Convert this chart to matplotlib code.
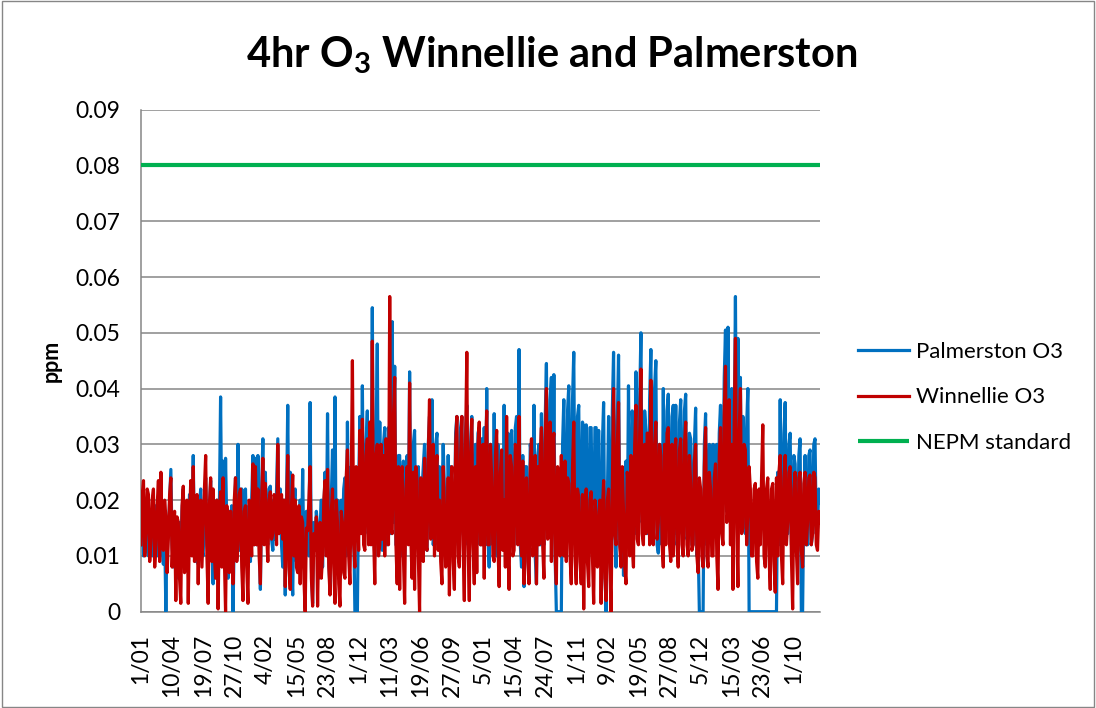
import matplotlib
matplotlib.use("Agg")
import matplotlib.pyplot as plt
import pandas as pd

# ---------------- data (ppm), one value every 4 days from 1 Jan 2008 ----------------
start_date = "2008-01-01"
step = "4D"

palmerston_o3 = [
    # 2008
    0.012, 0.019, 0.010, 0.015, 0.020, 0.011, 0.010, 0.018, 0.017, 0.010,
    0.011, 0.018, 0.019, 0.010, 0.012, 0.019, 0.020, 0.011, 0.0085, 0.015,
    0.000, 0.016, 0.014, 0.020, 0.0255, 0.012, 0.008, 0.017, 0.014, 0.009,
    0.006, 0.016, 0.010, 0.018, 0.022, 0.009, 0.008, 0.017, 0.012, 0.021,
    0.020, 0.012, 0.028, 0.010, 0.009, 0.018, 0.0085, 0.019, 0.022, 0.011,
    0.010, 0.020, 0.024, 0.012, 0.010, 0.018, 0.0235, 0.012, 0.005, 0.017,
    0.012, 0.020, 0.008, 0.018, 0.0385, 0.014, 0.027, 0.012, 0.0275, 0.015,
    0.006, 0.018, 0.010, 0.019, 0.000, 0.014, 0.024, 0.012, 0.030, 0.011,
    0.013, 0.022, 0.017, 0.010, 0.022, 0.012, 0.008, 0.019, 0.009, 0.020,
    0.028, 0.012,
    # 2009
    0.0275, 0.012, 0.028, 0.014, 0.004, 0.022, 0.031, 0.015, 0.025, 0.013,
    0.012, 0.022, 0.0225, 0.013, 0.011, 0.020, 0.013, 0.022, 0.031, 0.014,
    0.022, 0.012, 0.008, 0.020, 0.003, 0.019, 0.037, 0.010, 0.025, 0.008,
    0.003, 0.020, 0.022, 0.009, 0.016, 0.008, 0.020, 0.010, 0.0255, 0.008,
    0.010, 0.018, 0.017, 0.010, 0.0375, 0.008, 0.0015, 0.016, 0.013, 0.018,
    0.015, 0.006, 0.015, 0.020, 0.008, 0.018, 0.025, 0.012, 0.0355, 0.009,
    0.004, 0.020, 0.029, 0.010, 0.0385, 0.009, 0.020, 0.006, 0.018, 0.020,
    0.012, 0.022, 0.024, 0.010, 0.034, 0.014, 0.015, 0.026, 0.020, 0.016,
    0.000, 0.000, 0.000, 0.022, 0.035, 0.015, 0.0405, 0.016, 0.014, 0.030,
    0.036, 0.014,
    # 2010
    0.030, 0.014, 0.0545, 0.015, 0.010, 0.030, 0.048, 0.012, 0.034, 0.014,
    0.011, 0.030, 0.033, 0.012, 0.012, 0.033, 0.020, 0.014, 0.052, 0.016,
    0.044, 0.012, 0.012, 0.028, 0.028, 0.010, 0.022, 0.027, 0.010, 0.025,
    0.028, 0.014, 0.043, 0.012, 0.012, 0.030, 0.0325, 0.012, 0.020, 0.026,
    0.015, 0.010, 0.022, 0.026, 0.030, 0.012, 0.011, 0.030, 0.035, 0.014,
    0.038, 0.012, 0.015, 0.030, 0.032, 0.012, 0.026, 0.010, 0.020, 0.030,
    0.022, 0.010, 0.012, 0.028, 0.018, 0.026, 0.016, 0.010, 0.013, 0.032,
    0.035, 0.012, 0.012, 0.033, 0.035, 0.014, 0.013, 0.032, 0.037, 0.012,
    0.024, 0.030, 0.035, 0.013, 0.013, 0.030, 0.012, 0.032, 0.033, 0.012,
    0.031, 0.014,
    # 2011
    0.033, 0.012, 0.040, 0.014, 0.008, 0.030, 0.026, 0.012, 0.0355, 0.014,
    0.010, 0.030, 0.012, 0.028, 0.025, 0.012, 0.037, 0.014, 0.012, 0.032,
    0.012, 0.030, 0.0325, 0.012, 0.012, 0.033, 0.035, 0.014, 0.047, 0.012,
    0.008, 0.028, 0.0045, 0.026, 0.026, 0.010, 0.006, 0.030, 0.028, 0.012,
    0.037, 0.010, 0.005, 0.028, 0.030, 0.012, 0.0355, 0.014, 0.012, 0.034,
    0.0445, 0.016, 0.014, 0.038, 0.042, 0.015, 0.0425, 0.010, 0.000, 0.000,
    0.000, 0.000, 0.000, 0.030, 0.038, 0.014, 0.012, 0.036, 0.0405, 0.014,
    0.020, 0.038, 0.0465, 0.014, 0.012, 0.035, 0.037, 0.012, 0.015, 0.034,
    0.033, 0.012, 0.0335, 0.014, 0.014, 0.033, 0.033, 0.012, 0.012, 0.033,
    0.033, 0.012,
    # 2012
    0.0325, 0.010, 0.012, 0.030, 0.0375, 0.008, 0.000, 0.020, 0.035, 0.012,
    0.014, 0.036, 0.0465, 0.014, 0.008, 0.034, 0.046, 0.012, 0.010, 0.022,
    0.0065, 0.020, 0.027, 0.012, 0.0405, 0.014, 0.015, 0.036, 0.030, 0.014,
    0.043, 0.016, 0.015, 0.038, 0.050, 0.016, 0.018, 0.036, 0.0325, 0.014,
    0.015, 0.038, 0.047, 0.016, 0.020, 0.040, 0.045, 0.012, 0.0105, 0.030,
    0.024, 0.012, 0.040, 0.014, 0.015, 0.036, 0.039, 0.014, 0.015, 0.035,
    0.037, 0.014, 0.037, 0.012, 0.014, 0.034, 0.038, 0.014, 0.015, 0.036,
    0.039, 0.013, 0.014, 0.032, 0.031, 0.012, 0.012, 0.030, 0.0365, 0.010,
    0.012, 0.000, 0.000, 0.000, 0.000, 0.030, 0.0355, 0.012, 0.022, 0.030,
    0.029, 0.012,
    # 2013
    0.030, 0.014, 0.014, 0.030, 0.012, 0.032, 0.037, 0.016, 0.020, 0.042,
    0.0505, 0.018, 0.051, 0.020, 0.025, 0.040, 0.006, 0.030, 0.0565, 0.020,
    0.049, 0.018, 0.042, 0.016, 0.035, 0.030, 0.014, 0.033, 0.040, 0.000,
    0.000, 0.000, 0.000, 0.000, 0.000, 0.000, 0.000, 0.000, 0.000, 0.000,
    0.000, 0.000, 0.000, 0.000, 0.000, 0.000, 0.000, 0.000, 0.000, 0.000,
    0.000, 0.000,
    0.025, 0.012, 0.038, 0.014, 0.015, 0.032, 0.0375, 0.014, 0.014, 0.030,
    0.032, 0.012, 0.012, 0.028, 0.0265, 0.012, 0.012, 0.028, 0.031, 0.000,
    0.000, 0.020, 0.028, 0.012, 0.012, 0.028, 0.029, 0.012, 0.014, 0.030,
    0.031, 0.014, 0.015, 0.022, 0.0195,
]

winnellie_o3 = [
    # 2008
    0.012, 0.021, 0.0235, 0.010, 0.014, 0.022, 0.021, 0.009, 0.013, 0.020,
    0.022, 0.008, 0.012, 0.019, 0.0235, 0.009, 0.025, 0.012, 0.011, 0.020,
    0.017, 0.007, 0.013, 0.021, 0.024, 0.008, 0.014, 0.018, 0.002, 0.017,
    0.016, 0.006, 0.0015, 0.019, 0.0225, 0.007, 0.012, 0.020, 0.0015, 0.016,
    0.0235, 0.010, 0.026, 0.009, 0.012, 0.021, 0.005, 0.018, 0.020, 0.008,
    0.015, 0.022, 0.028, 0.010, 0.0015, 0.019, 0.024, 0.009, 0.022, 0.010,
    0.006, 0.020, 0.0005, 0.017, 0.0215, 0.008, 0.024, 0.010, 0.000, 0.019,
    0.016, 0.007, 0.018, 0.011, 0.005, 0.020, 0.024, 0.009, 0.012, 0.021,
    0.022, 0.008, 0.002, 0.018, 0.019, 0.008, 0.0015, 0.020, 0.016, 0.010,
    0.0265, 0.012,
    # 2009
    0.026, 0.012, 0.022, 0.010, 0.005, 0.020, 0.0275, 0.012, 0.023, 0.014,
    0.009, 0.020, 0.0215, 0.013, 0.014, 0.021, 0.020, 0.012, 0.030, 0.014,
    0.016, 0.021, 0.013, 0.020, 0.0045, 0.018, 0.028, 0.008, 0.004, 0.019,
    0.0245, 0.010, 0.020, 0.008, 0.007, 0.019, 0.005, 0.017, 0.016, 0.006,
    0.000, 0.015, 0.0145, 0.020, 0.026, 0.006, 0.001, 0.014, 0.011, 0.017,
    0.001, 0.014, 0.016, 0.006, 0.010, 0.020, 0.0235, 0.010, 0.0255, 0.008,
    0.003, 0.018, 0.022, 0.008, 0.0015, 0.020, 0.016, 0.005, 0.001, 0.018,
    0.016, 0.007, 0.006, 0.024, 0.029, 0.010, 0.005, 0.022, 0.045, 0.012,
    0.008, 0.026, 0.020, 0.011, 0.0325, 0.014, 0.0345, 0.012, 0.011, 0.028,
    0.031, 0.012,
    # 2010
    0.034, 0.012, 0.0485, 0.014, 0.005, 0.028, 0.030, 0.010, 0.012, 0.030,
    0.013, 0.028, 0.010, 0.031, 0.027, 0.012, 0.0565, 0.015, 0.014, 0.035,
    0.042, 0.012, 0.005, 0.026, 0.004, 0.024, 0.026, 0.010, 0.0015, 0.022,
    0.026, 0.012, 0.041, 0.013, 0.006, 0.025, 0.004, 0.026, 0.0235, 0.010,
    0.000, 0.024, 0.018, 0.009, 0.0275, 0.012, 0.011, 0.028, 0.038, 0.013,
    0.015, 0.030, 0.010, 0.025, 0.028, 0.011, 0.020, 0.009, 0.005, 0.026,
    0.019, 0.008, 0.010, 0.024, 0.003, 0.022, 0.026, 0.009, 0.004, 0.030,
    0.035, 0.010, 0.008, 0.028, 0.035, 0.012, 0.002, 0.030, 0.0465, 0.012,
    0.002, 0.028, 0.0345, 0.012, 0.005, 0.026, 0.007, 0.030, 0.034, 0.012,
    0.012, 0.030,
    # 2011
    0.006, 0.028, 0.036, 0.012, 0.012, 0.030, 0.024, 0.010, 0.009, 0.028,
    0.0325, 0.012, 0.0045, 0.025, 0.029, 0.011, 0.020, 0.008, 0.035, 0.012,
    0.004, 0.028, 0.026, 0.010, 0.011, 0.030, 0.029, 0.012, 0.035, 0.014,
    0.010, 0.027, 0.005, 0.022, 0.024, 0.009, 0.005, 0.026, 0.031, 0.010,
    0.012, 0.028, 0.005, 0.026, 0.012, 0.028, 0.033, 0.012, 0.006, 0.030,
    0.040, 0.013, 0.014, 0.034, 0.009, 0.030, 0.032, 0.010, 0.005, 0.026,
    0.022, 0.010, 0.028, 0.012, 0.010, 0.027, 0.009, 0.024, 0.023, 0.010,
    0.005, 0.026, 0.034, 0.010, 0.005, 0.022, 0.0205, 0.009, 0.005, 0.021,
    0.0005, 0.018, 0.022, 0.009, 0.0045, 0.020, 0.0215, 0.010, 0.0015, 0.020,
    0.018, 0.008,
    # 2012
    0.012, 0.020, 0.0015, 0.018, 0.0235, 0.006, 0.002, 0.020, 0.022, 0.008,
    0.000, 0.022, 0.040, 0.014, 0.012, 0.030, 0.0375, 0.012, 0.008, 0.026,
    0.018, 0.008, 0.005, 0.025, 0.023, 0.010, 0.028, 0.012, 0.008, 0.030,
    0.037, 0.013, 0.012, 0.032, 0.0435, 0.014, 0.012, 0.030, 0.014, 0.032,
    0.032, 0.012, 0.0415, 0.014, 0.012, 0.030, 0.034, 0.013, 0.016, 0.030,
    0.028, 0.012, 0.008, 0.030, 0.012, 0.032, 0.033, 0.012, 0.009, 0.030,
    0.010, 0.028, 0.031, 0.012, 0.008, 0.029, 0.031, 0.012, 0.010, 0.030,
    0.034, 0.012, 0.010, 0.028, 0.023, 0.011, 0.012, 0.027, 0.030, 0.010,
    0.007, 0.024, 0.022, 0.010, 0.008, 0.026, 0.033, 0.010, 0.008, 0.025,
    0.022, 0.010,
    # 2013
    0.010, 0.024, 0.0265, 0.010, 0.004, 0.028, 0.033, 0.014, 0.012, 0.036,
    0.044, 0.016, 0.018, 0.038, 0.012, 0.030, 0.004, 0.034, 0.049, 0.015,
    0.0045, 0.032, 0.040, 0.014, 0.015, 0.030, 0.029, 0.012, 0.018, 0.026,
    0.022, 0.010, 0.010, 0.022, 0.023, 0.009, 0.006, 0.022, 0.012, 0.024,
    0.0335, 0.010, 0.008, 0.022, 0.024, 0.010, 0.004, 0.022, 0.023, 0.009,
    0.0035, 0.024, 0.010, 0.025, 0.028, 0.010, 0.005, 0.024, 0.028, 0.012,
    0.016, 0.025, 0.026, 0.010, 0.0005, 0.022, 0.025, 0.011, 0.005, 0.024,
    0.025, 0.011, 0.008, 0.023, 0.025, 0.012, 0.016, 0.024, 0.0245, 0.012,
    0.014, 0.025, 0.024, 0.012, 0.011, 0.018, 0.016,
]

nepm_standard = 0.08

tick_labels = ["1/01", "10/04", "19/07", "27/10", "4/02", "15/05", "23/08",
               "1/12", "11/03", "19/06", "27/09", "5/01", "15/04", "24/07",
               "1/11", "9/02", "19/05", "27/08", "5/12", "15/03", "23/06", "1/10"]
tick_step = "100D"
y_ticks = [0, 0.01, 0.02, 0.03, 0.04, 0.05, 0.06, 0.07, 0.08, 0.09]
y_tick_labels = ["0", "0.01", "0.02", "0.03", "0.04", "0.05", "0.06", "0.07", "0.08", "0.09"]

# ---------------- plotting ----------------
plt.rcParams["font.family"] = ["Lato", "DejaVu Sans"]
plt.rcParams["mathtext.fontset"] = "custom"
plt.rcParams["mathtext.rm"] = "Lato:bold"
plt.rcParams["mathtext.bf"] = "Lato:bold"
plt.rcParams["mathtext.default"] = "rm"

dates = pd.date_range(start_date, periods=len(palmerston_o3), freq=step)
tick_dates = pd.date_range(start_date, periods=len(tick_labels), freq=tick_step)

fig = plt.figure(figsize=(10.96, 7.08), dpi=100)
ax = fig.add_axes([141 / 1096, 1 - 611.7 / 708, (820 - 141) / 1096, (611.7 - 109.7) / 708])

grid_c = "#868686"
ax.plot(dates, palmerston_o3, color="#0070C0", lw=2.3, label="Palmerston O3",
        solid_joinstyle="round", zorder=3)
ax.plot(dates, winnellie_o3, color="#C00000", lw=2.3, label="Winnellie O3",
        solid_joinstyle="round", zorder=4)
ax.plot([dates[0], dates[-1]], [nepm_standard, nepm_standard], color="#00B050",
        lw=3.0, label="NEPM standard", zorder=5, solid_capstyle="butt")

ax.set_xlim(dates[0], dates[-1])
ax.set_ylim(0, 0.09)
ax.set_yticks(y_ticks)
ax.set_yticklabels(y_tick_labels)
ax.set_xticks(tick_dates)
ax.set_xticklabels(tick_labels, rotation=90, ha="center", va="top")
ax.tick_params(axis="y", length=0, pad=15, labelsize=16.5)
ax.tick_params(axis="x", length=0, pad=16, labelsize=16.5)
ax.yaxis.grid(True, color=grid_c, lw=1.1, zorder=1)
ax.set_axisbelow(True)
for s in ["top", "right"]:
    ax.spines[s].set_visible(False)
for s in ["left", "bottom"]:
    ax.spines[s].set_color(grid_c)
    ax.spines[s].set_linewidth(1.1)

ax.set_ylabel("ppm", fontsize=15.5, fontweight="bold", labelpad=10)

fig.text(0.503, 1 - 55 / 708, "4hr O$_3$ Winnellie and Palmerston", ha="center", va="center",
         fontsize=30, fontweight="bold")

leg = fig.legend(loc="center left", bbox_to_anchor=(858 / 1096, 1 - 397.5 / 708),
                 frameon=False, fontsize=16, handlelength=2.3, handletextpad=0.3,
                 labelspacing=1.15, borderpad=0, borderaxespad=0)

fig.patches.append(plt.Rectangle((0.0015, 0.002), 0.997, 0.996, transform=fig.transFigure,
                                 fill=False, edgecolor=grid_c, lw=1.0))

fig.savefig("out.png", dpi=100)
